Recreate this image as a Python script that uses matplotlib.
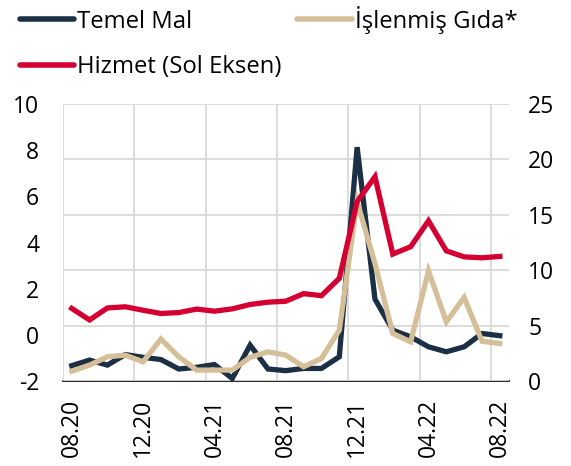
import matplotlib.pyplot as plt
from matplotlib.lines import Line2D

plt.rcParams['font.family'] = ['Open Sans', 'DejaVu Sans']
plt.rcParams['axes.unicode_minus'] = False

months = ['08.20', '09.20', '10.20', '11.20', '12.20', '01.21', '02.21', '03.21',
          '04.21', '05.21', '06.21', '07.21', '08.21', '09.21', '10.21', '11.21',
          '12.21', '01.22', '02.22', '03.22', '04.22', '05.22', '06.22', '07.22',
          '08.22']

# Temel Mal and Islenmis Gida on right axis, Hizmet on left axis
temel_mal = [1.4, 1.9, 1.45, 2.4, 2.15, 1.95, 1.1, 1.25, 1.5, 0.25, 3.25, 1.1,
             0.95, 1.15, 1.15, 2.2, 21.1, 7.4, 4.6, 4.0, 3.1, 2.65, 3.1, 4.3, 4.1]
islenmis_gida = [0.9, 1.45, 2.2, 2.35, 1.75, 3.8, 2.2, 1.0, 1.0, 1.0, 2.15, 2.65,
                 2.35, 1.3, 2.05, 4.6, 16.2, 10.6, 4.3, 3.55, 9.95, 5.35, 7.55,
                 3.6, 3.4]
hizmet = [1.15, 0.65, 1.17, 1.22, 1.07, 0.93, 0.97, 1.12, 1.03, 1.13, 1.32, 1.42,
          1.46, 1.79, 1.7, 2.45, 5.77, 6.85, 3.5, 3.82, 4.94, 3.64, 3.38, 3.34, 3.4]

c_navy = '#1b2f45'
c_tan = '#d5bf98'
c_red = '#d50032'
lw = 3.8
fs = 16.5

x = list(range(len(months)))

fig = plt.figure(figsize=(5.71, 4.66), dpi=100)
ax = fig.add_axes([0.11, 0.182, 0.781, 0.595])
ax2 = ax.twinx()

ax2.plot(x, temel_mal, color=c_navy, lw=lw, solid_joinstyle='miter', zorder=3)
ax2.plot(x, islenmis_gida, color=c_tan, lw=lw, solid_joinstyle='miter', zorder=4)

# Hizmet drawn on left scale but above the others
ax_top = ax.twinx()
ax_top.plot(x, hizmet, color=c_red, lw=lw, solid_joinstyle='miter')
ax_top.set_ylim(-2, 10)
ax_top.axis('off')

ax.set_xlim(-0.5, 24.5)
ax.set_ylim(-2, 10)
ax2.set_ylim(0, 25)

ax.set_yticks([-2, 0, 2, 4, 6, 8, 10])
ax.set_yticklabels(['-2', '0', '2', '4', '6', '8', '10'])
ax2.set_yticks([0, 5, 10, 15, 20, 25])

ax.set_xticks(x[::4])
ax.set_xticklabels(months[::4], rotation=90)
ax.set_xticks([i - 0.5 for i in range(0, 25, 4)], minor=True)

ax.tick_params(axis='both', which='both', length=0, labelsize=fs)
ax.tick_params(axis='y', pad=17)
ax.tick_params(axis='x', pad=13)
ax2.tick_params(axis='y', length=0, labelsize=fs, pad=14)

ax2.grid(axis='y', color='#d9d9d9', lw=1.3)
ax.grid(axis='x', which='minor', color='#d9d9d9', lw=1.3)
ax.set_axisbelow(True)
ax2.set_zorder(ax.get_zorder() + 1)
ax_top.set_zorder(ax2.get_zorder() + 1)
ax2.patch.set_visible(False)

for a in (ax, ax2):
    for s in ['top', 'left', 'right', 'bottom']:
        a.spines[s].set_visible(False)
ax.spines['bottom'].set_visible(True)
ax.spines['bottom'].set_color('black')
ax.spines['bottom'].set_linewidth(1.2)
ax.spines['bottom'].set_zorder(10)

handles = [Line2D([], [], color=c_navy, lw=4, solid_capstyle='round'),
           Line2D([], [], color=c_red, lw=4, solid_capstyle='round'),
           Line2D([], [], color=c_tan, lw=4, solid_capstyle='round')]
labels = ['Temel Mal', 'Hizmet (Sol Eksen)', 'İşlenmiş Gıda*']
fig.legend(handles, labels, ncol=2, loc='upper left',
           bbox_to_anchor=(0.03, 0.993), frameon=False, fontsize=17.2,
           handlelength=2.3, handletextpad=0.12, columnspacing=0.65,
           labelspacing=0.9, borderpad=0.1, borderaxespad=0)

fig.savefig('out.png', dpi=100)
